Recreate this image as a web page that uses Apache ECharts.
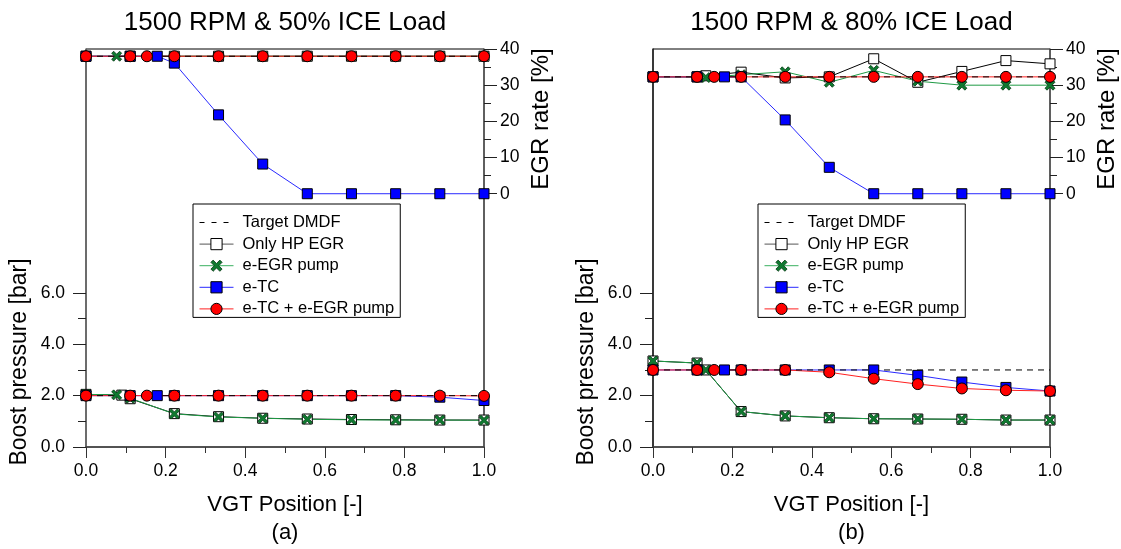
<!DOCTYPE html>
<html>
<head>
<meta charset="utf-8">
<script src="https://cdn.jsdelivr.net/npm/echarts@6/dist/echarts.min.js"></script>
<style>
html,body{margin:0;padding:0;background:#fff;}
#chart{width:1121px;height:549px;}
</style>
</head>
<body>
<div id="chart"></div>
<script>
// ---------------- DATA ----------------
const seriesNames = ['Target DMDF', 'Only HP EGR', 'e-EGR pump', 'e-TC', 'e-TC + e-EGR pump'];
const panelTitles = ['1500 RPM & 50% ICE Load', '1500 RPM & 80% ICE Load'];
const panelLabels = ['(a)', '(b)'];
const xTickLabels = ['0.0', '0.2', '0.4', '0.6', '0.8', '1.0'];
const boostTicks = [0, 2, 4, 6];
const boostMinorTicks = [1, 3, 5];
const egrTicks = [0, 10, 20, 30, 40];
const egrMinorTicks = [5, 15, 25, 35];

// Panel (a) 1500 RPM & 50% load
const a_target_x = [0, 1];
const a_target_boost = [2.0, 2.0];
const a_target_egr = [38, 38];

const a_onlyHP_boost_x = [0, 0.09, 0.111, 0.222, 0.333, 0.444, 0.556, 0.667, 0.778, 0.889, 1.0];
const a_onlyHP_boost = [2.05, 2.02, 1.88, 1.30, 1.18, 1.12, 1.09, 1.07, 1.06, 1.05, 1.05];
const a_onlyHP_egr_x = [0, 0.111, 0.222, 0.333, 0.444, 0.556, 0.667, 0.778, 0.889, 1.0];
const a_onlyHP_egr = [38, 38, 38, 38, 38, 38, 38, 38, 38, 38];

const a_eegr_x = [0, 0.077, 0.111, 0.222, 0.333, 0.444, 0.556, 0.667, 0.778, 0.889, 1.0];
const a_eegr_boost = [2.05, 2.03, 1.90, 1.29, 1.17, 1.12, 1.08, 1.06, 1.05, 1.05, 1.04];
const a_eegr_egr = [38, 38, 38, 38, 38, 38, 38, 38, 38, 38, 38];

const a_etc_x = [0, 0.111, 0.179, 0.222, 0.333, 0.444, 0.556, 0.667, 0.778, 0.889, 1.0];
const a_etc_boost = [2.0, 2.0, 2.0, 2.0, 2.0, 2.0, 2.0, 2.0, 2.0, 1.94, 1.81];
const a_etc_egr = [38, 38, 38, 36.1, 21.8, 8.2, 0, 0, 0, 0, 0];

const a_red_x = [0, 0.111, 0.153, 0.222, 0.333, 0.444, 0.556, 0.667, 0.778, 0.889, 1.0];
const a_red_boost = [2.0, 2.0, 2.0, 2.0, 2.0, 2.0, 2.0, 2.0, 2.0, 2.0, 1.99];
const a_red_egr = [38, 38, 38, 38, 38, 38, 38, 38, 38, 38, 38];

// Panel (b) 1500 RPM & 80% load
const b_target_x = [0, 1];
const b_target_boost = [3.0, 3.0];
const b_target_egr = [32.3, 32.3];

const b_onlyHP_x = [0, 0.111, 0.133, 0.222, 0.333, 0.444, 0.556, 0.667, 0.778, 0.889, 1.0];
const b_onlyHP_boost = [3.35, 3.27, 3.0, 1.38, 1.21, 1.14, 1.10, 1.09, 1.08, 1.05, 1.05];
const b_onlyHP_egr = [32.3, 32.3, 32.6, 33.6, 32.0, 32.3, 37.3, 30.8, 33.8, 36.8, 35.9];

const b_eegr_x = [0, 0.111, 0.133, 0.222, 0.333, 0.444, 0.556, 0.667, 0.778, 0.889, 1.0];
const b_eegr_boost = [3.35, 3.27, 3.0, 1.38, 1.21, 1.14, 1.10, 1.09, 1.08, 1.05, 1.05];
const b_eegr_egr = [32.3, 32.3, 32.1, 32.9, 33.7, 30.8, 34.1, 31.1, 30.0, 30.0, 30.0];

const b_etc_x = [0, 0.111, 0.18, 0.222, 0.333, 0.444, 0.556, 0.667, 0.778, 0.889, 1.0];
const b_etc_boost = [3.0, 3.0, 3.0, 3.0, 3.0, 3.0, 3.0, 2.79, 2.53, 2.32, 2.18];
const b_etc_egr = [32.3, 32.3, 32.3, 32.3, 20.4, 7.3, 0, 0, 0, 0, 0];

const b_red_x = [0, 0.111, 0.154, 0.222, 0.333, 0.444, 0.556, 0.667, 0.778, 0.889, 1.0];
const b_red_boost = [3.0, 3.0, 3.0, 3.0, 3.0, 2.91, 2.66, 2.45, 2.28, 2.21, 2.18];
const b_red_egr = [32.3, 32.3, 32.3, 32.3, 32.3, 32.3, 32.3, 32.3, 32.3, 32.3, 32.3];

// ---------------- CHART ----------------
const FONT = "'Liberation Sans', Arial, Helvetica, sans-serif";
const zip = (xs, ys) => xs.map((x, i) => [x, ys[i]]);
const XSYM = 'path://M0,2 L2,0 L5,3 L8,0 L10,2 L7,5 L10,8 L8,10 L5,7 L2,10 L0,8 L3,5 Z';

const styles = {
  'Target DMDF': { symbol: 'none', line: { color: '#000', width: 1, type: [6, 5] }, item: { color: '#000' }, legLine: '#000' },
  'Only HP EGR': { symbol: 'rect', size: 10, line: { color: '#000', width: 1 }, item: { color: '#fff', borderColor: '#000', borderWidth: 1 }, legLine: '#555' },
  'e-EGR pump': { symbol: XSYM, size: 10, line: { color: '#1f9a45', width: 1 }, item: { color: '#0f7a30', borderColor: '#063a14', borderWidth: 0.8 }, legLine: '#3bb060' },
  'e-TC': { symbol: 'rect', size: 10, line: { color: '#2a2aff', width: 1 }, item: { color: '#0000ff', borderColor: '#000', borderWidth: 1 }, legLine: '#2a2aff' },
  'e-TC + e-EGR pump': { symbol: 'circle', size: 11, line: { color: '#ff2020', width: 1 }, item: { color: '#ff0000', borderColor: '#000', borderWidth: 1 }, legLine: '#ff2020' }
};

function mk(name, data, xIdx, yIdx) {
  const s = styles[name];
  return {
    type: 'line', name, data, xAxisIndex: xIdx, yAxisIndex: yIdx,
    symbol: s.symbol, symbolSize: s.size || 0, showSymbol: s.symbol !== 'none',
    lineStyle: s.line, itemStyle: s.item, color: s.item.color,
    silent: true, animation: false, z: 3
  };
}

const legendData = seriesNames.map(n => {
  const s = styles[n];
  if (n === 'Target DMDF') {
    return { name: n, itemStyle: { opacity: 0, color: '#000', borderWidth: 0 },
      lineStyle: { color: '#000', width: 1, type: [5, 7], opacity: 1 } };
  }
  return { name: n, itemStyle: Object.assign({}, s.item),
    lineStyle: { color: s.legLine, width: 1, type: 'solid', opacity: 1 } };
});

const panels = [
  { target: [a_target_x, a_target_boost, a_target_x, a_target_egr],
    onlyHP: [a_onlyHP_boost_x, a_onlyHP_boost, a_onlyHP_egr_x, a_onlyHP_egr],
    eegr: [a_eegr_x, a_eegr_boost, a_eegr_x, a_eegr_egr],
    etc: [a_etc_x, a_etc_boost, a_etc_x, a_etc_egr],
    red: [a_red_x, a_red_boost, a_red_x, a_red_egr] },
  { target: [b_target_x, b_target_boost, b_target_x, b_target_egr],
    onlyHP: [b_onlyHP_x, b_onlyHP_boost, b_onlyHP_x, b_onlyHP_egr],
    eegr: [b_eegr_x, b_eegr_boost, b_eegr_x, b_eegr_egr],
    etc: [b_etc_x, b_etc_boost, b_etc_x, b_etc_egr],
    red: [b_red_x, b_red_boost, b_red_x, b_red_egr] }
];

const gridsPos = [{ left: 86, top: 49, width: 398, height: 398 }, { left: 653, top: 49, width: 397, height: 398 }];

const grid = [], xAxis = [], yAxis = [], series = [], legend = [], graphic = [];

gridsPos.forEach((g, gi) => {
  grid.push(Object.assign({ show: true, borderColor: '#000', borderWidth: 1, backgroundColor: 'transparent' }, g));
  xAxis.push({
    type: 'value', gridIndex: gi, min: 0, max: 1, interval: 0.2,
    axisLine: { show: true, onZero: false, lineStyle: { color: '#444', width: 1.5 } },
    axisTick: { show: true, length: 11, lineStyle: { color: '#333' } },
    minorTick: { show: true, splitNumber: 2, length: 6, lineStyle: { color: '#333' } },
    splitLine: { show: false }, minorSplitLine: { show: false },
    axisLabel: { margin: 15, fontSize: 17.5, color: '#000', fontFamily: FONT,
      formatter: v => xTickLabels[Math.round(v / 0.2)] }
  });
  const base = gi * 4;
  yAxis.push({
    type: 'value', gridIndex: gi, position: 'left', min: 0, max: 15.5,
    axisLine: { show: true, onZero: false, lineStyle: { color: gi === 0 ? '#666' : '#222', width: 1.5 } },
    axisTick: { show: true, length: 13, customValues: boostTicks, lineStyle: { color: '#222' } },
    splitLine: { show: false },
    axisLabel: { customValues: boostTicks, margin: 21, fontSize: 17.5, color: '#000', fontFamily: FONT, formatter: v => v.toFixed(1) }
  });
  yAxis.push({
    type: 'value', gridIndex: gi, position: 'left', min: 0, max: 15.5,
    axisLine: { show: false }, splitLine: { show: false },
    axisTick: { show: true, length: 8, customValues: boostMinorTicks, lineStyle: { color: '#222' } },
    axisLabel: { show: false }
  });
  yAxis.push({
    type: 'value', gridIndex: gi, position: 'right', min: -70, max: 40,
    axisLine: { show: true, onZero: false, lineStyle: { color: '#555', width: 1.5 } },
    axisTick: { show: true, length: 13, customValues: egrTicks, lineStyle: { color: '#222' } },
    splitLine: { show: false },
    axisLabel: { customValues: egrTicks, margin: 16, fontSize: 17.5, color: '#000', fontFamily: FONT }
  });
  yAxis.push({
    type: 'value', gridIndex: gi, position: 'right', min: -70, max: 40,
    axisLine: { show: false }, splitLine: { show: false },
    axisTick: { show: true, length: 7, customValues: egrMinorTicks, lineStyle: { color: '#222' } },
    axisLabel: { show: false }
  });

  const p = panels[gi];
  const order = [['Only HP EGR', p.onlyHP], ['e-EGR pump', p.eegr], ['e-TC', p.etc], ['e-TC + e-EGR pump', p.red], ['Target DMDF', p.target]];
  order.forEach(([name, d]) => {
    series.push(mk(name, zip(d[0], d[1]), gi, base));
    series.push(mk(name, zip(d[2], d[3]), gi, base + 2));
  });

  legend.push({
    data: legendData, orient: 'vertical', left: gi === 0 ? 193 : 758, top: 204,
    backgroundColor: '#fff', borderColor: '#000', borderWidth: 1,
    padding: [10, 6, 0, 6], itemGap: 4.6, itemWidth: 34, itemHeight: 14,
    selectedMode: false,
    textStyle: { fontSize: 16.5, color: '#000', fontFamily: FONT, padding: [0, 0, 0, 4] }
  });

  const cx = g.left + g.width / 2;
  graphic.push({ type: 'text', x: cx, y: 23, style: { text: panelTitles[gi], fontSize: 26, fontFamily: FONT, fill: '#000', align: 'center', verticalAlign: 'middle' } });
  graphic.push({ type: 'text', x: cx, y: 505, style: { text: 'VGT Position [-]', fontSize: 22, fontFamily: FONT, fill: '#000', align: 'center', verticalAlign: 'middle' } });
  graphic.push({ type: 'text', x: cx, y: 533, style: { text: panelLabels[gi], fontSize: 22, fontFamily: FONT, fill: '#000', align: 'center', verticalAlign: 'middle' } });
  graphic.push({ type: 'text', x: g.left - 66, y: 362, rotation: Math.PI / 2, style: { text: 'Boost pressure [bar]', fontSize: 23, fontFamily: FONT, fill: '#000', align: 'center', verticalAlign: 'middle' } });
  graphic.push({ type: 'text', x: g.left + g.width + 57, y: 119, rotation: Math.PI / 2, style: { text: 'EGR rate [%]', fontSize: 24, fontFamily: FONT, fill: '#000', align: 'center', verticalAlign: 'middle' } });
});

const chart = echarts.init(document.getElementById('chart'), null, { renderer: 'canvas' });
chart.setOption({
  animation: false,
  backgroundColor: '#fff',
  textStyle: { fontFamily: FONT },
  grid, xAxis, yAxis, series, legend, graphic
});
</script>
</body>
</html>
